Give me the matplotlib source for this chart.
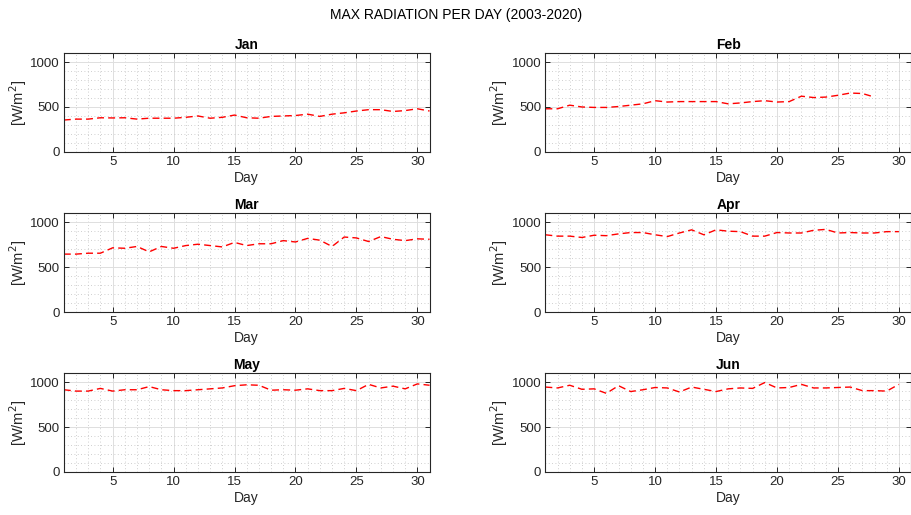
import matplotlib
matplotlib.use("Agg")
import matplotlib.pyplot as plt
from matplotlib.ticker import MultipleLocator

plt.rcParams['font.family'] = ['Liberation Sans', 'DejaVu Sans']

months = ["Jan", "Feb", "Mar", "Apr", "May", "Jun"]

jan = [355, 365, 365, 380, 378, 380, 365, 375, 375, 375, 385, 400, 375, 385, 410, 380,
       375, 395, 400, 405, 420, 395, 420, 435, 455, 470, 470, 450, 460, 480, 455]
feb = [480, 480, 520, 500, 495, 495, 505, 520, 535, 570, 555, 560, 560, 560, 560, 535,
       545, 560, 570, 555, 560, 620, 605, 610, 630, 655, 650, 610]
mar = [645, 645, 655, 655, 715, 710, 730, 670, 730, 710, 740, 755, 740, 725, 775, 740,
       760, 760, 795, 780, 820, 800, 730, 835, 825, 785, 840, 810, 795, 815, 810]
apr = [860, 845, 845, 830, 855, 850, 870, 885, 885, 860, 840, 880, 915, 860, 915, 900,
       895, 845, 845, 885, 880, 880, 910, 920, 880, 885, 880, 880, 895, 895]
may = [915, 900, 900, 930, 900, 915, 915, 950, 915, 905, 905, 915, 925, 935, 960, 970,
       965, 910, 915, 910, 925, 905, 905, 930, 905, 975, 935, 955, 925, 980, 965]
jun = [945, 935, 965, 920, 925, 875, 960, 895, 915, 940, 935, 890, 945, 920, 895, 925,
       935, 930, 995, 935, 940, 975, 935, 935, 940, 945, 905, 905, 900, 975]

series = [jan, feb, mar, apr, may, jun]

fig = plt.figure(figsize=(9.12, 5.15), dpi=100)
fig.suptitle("MAX RADIATION PER DAY (2003-2020)", fontsize=10, y=0.985)

lefts = [0.070, 0.598]
bottoms = [0.705, 0.394, 0.0835]
w, h = 0.401, 0.192
axcol = "0.15"

for i, (name, vals) in enumerate(zip(months, series)):
    ax = fig.add_axes([lefts[i % 2], bottoms[i // 2], w, h])
    days = list(range(1, len(vals) + 1))
    ax.plot(days, vals, color="red", linestyle=(0, (5, 3)), linewidth=1.0)
    ax.set_xlim(1, 31)
    ax.set_ylim(0, 1100)
    ax.set_xticks([5, 10, 15, 20, 25, 30])
    ax.set_yticks([0, 500, 1000])
    ax.xaxis.set_minor_locator(MultipleLocator(1))
    ax.yaxis.set_minor_locator(MultipleLocator(100))
    ax.grid(True, which="major", color="0.87", linestyle="-", linewidth=0.7)
    ax.grid(True, which="minor", color="0.75", linestyle=(0, (1, 3)), linewidth=0.6)
    ax.set_axisbelow(True)
    ax.tick_params(which="both", direction="in", top=True, right=True,
                   colors=axcol, labelsize=9.5, width=0.7)
    ax.tick_params(which="major", length=3.5, pad=3)
    ax.tick_params(which="minor", length=0)
    for s in ax.spines.values():
        s.set_color(axcol)
        s.set_linewidth(0.8)
    ax.set_title(name, fontsize=10, fontweight="bold", pad=3)
    ax.set_xlabel("Day", fontsize=10, color=axcol, labelpad=2)
    ax.set_ylabel("[W/m$^2$]", fontsize=10.5, color=axcol, labelpad=1)

fig.savefig("out.png", dpi=100)
